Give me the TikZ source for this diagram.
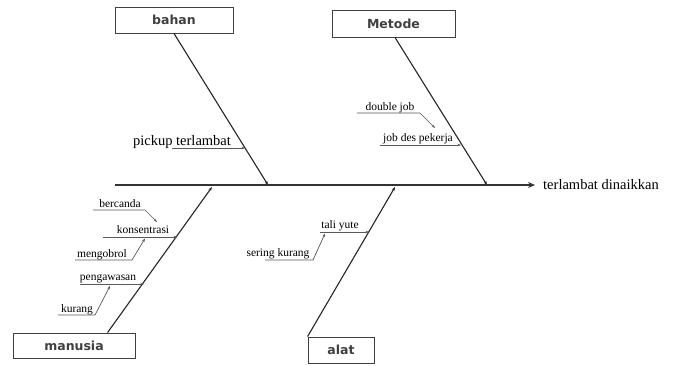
\documentclass[tikz,border=0pt]{standalone}
\usepackage{fontspec}
\setmainfont{Liberation Serif}
\newfontfamily\boxfont{DejaVu Sans}
\usetikzlibrary{arrows.meta}
\begin{document}
\begin{tikzpicture}[x=1pt,y=-1pt,
  catbox/.style={draw=black!75,line width=0.9pt,font=\boxfont\bfseries\fontsize{12.5}{14}\selectfont,inner sep=0pt,text=black!75},
  bone/.style={line width=1.1pt,black!85,-{Stealth[length=4pt,width=3pt]}},
  sub/.style={line width=0.7pt,black!65,-{Stealth[length=3.5pt,width=2.6pt]}},
  lbl/.style={font=\fontsize{11.5}{13}\selectfont,inner sep=0pt,anchor=base,text=black},
  biglbl/.style={font=\fontsize{14.5}{16}\selectfont,inner sep=0pt,anchor=base,text=black}]
\useasboundingbox (0,0) rectangle (675,365);
\fill[white] (0,0) rectangle (675,365);
% category boxes
\node[catbox,minimum width=118pt,minimum height=26pt] (bahan) at (174,20) {bahan};
\node[catbox,minimum width=123pt,minimum height=27pt] (metode) at (393.5,23.5) {Metode};
\node[catbox,minimum width=122pt,minimum height=25pt] (manusia) at (74,345.5) {manusia};
\node[catbox,minimum width=66pt,minimum height=26pt] (alat) at (341,350) {alat};
% spine
\coordinate (tail) at (115,185);
\node[biglbl,anchor=west] (effect) at (543,185) {terlambat dinaikkan};
\draw[line width=2.4pt,black!80,-{Stealth[length=7pt,width=6pt]}] (tail) -- ([xshift=-8pt]effect.west);
% bones
\coordinate (jb) at (268,185);
\coordinate (jm) at (487,185);
\coordinate (jn) at (212,187);
\coordinate (ja) at (395,187);
\draw[bone] (bahan.south) -- (jb);
\draw[bone] ([xshift=1.5pt]metode.south) -- (jm);
\draw[bone] ([xshift=95pt]manusia.north west) -- (jn);
\draw[bone] (alat.north west) -- (ja);
% bahan sub-cause
\node[biglbl] (pickup) at (182,145) {pickup terlambat};
\coordinate (pk1) at (172,148);
\coordinate (pk2) at (245,148);
\draw[sub] (pk1) -- (pk2);
% metode sub-causes
\node[lbl] (dj) at (390,110) {double job};
\node[lbl] (jd) at (418,141) {job des pekerja};
\coordinate (dj1) at (357,113);
\coordinate (dj2) at (420,113);
\coordinate (dj3) at (435,128);
\draw[sub] (dj1) -- (dj2) -- (dj3);
\coordinate (jd1) at (380,145);
\coordinate (jd2) at (461,145);
\draw[sub] (jd1) -- (jd2);
% manusia sub-causes
\node[lbl] (bc) at (120,207) {bercanda};
\coordinate (bc1) at (93,210);
\coordinate (bc2) at (145,210);
\coordinate (bc3) at (157,222);
\draw[sub] (bc1) -- (bc2) -- (bc3);
\node[lbl] (ks) at (143,233.5) {konsentrasi};
\coordinate (ks1) at (103,237);
\coordinate (ks2) at (177,237);
\draw[sub] (ks1) -- (ks2);
\node[lbl] (mg) at (102,257) {mengobrol};
\coordinate (mg1) at (75,260);
\coordinate (mg2) at (132,260);
\coordinate (mg3) at (145,238.5);
\draw[sub] (mg1) -- (mg2) -- (mg3);
\node[lbl] (pg) at (108,280.5) {pengawasan};
\coordinate (pg1) at (80,284);
\coordinate (pg2) at (144,284);
\draw[sub] (pg1) -- (pg2);
\node[lbl] (kr) at (77,312) {kurang};
\coordinate (kr1) at (58,315);
\coordinate (kr2) at (95,315);
\coordinate (kr3) at (110,286);
\draw[sub] (kr1) -- (kr2) -- (kr3);
% alat sub-causes
\node[lbl] (ty) at (340,228.5) {tali yute};
\coordinate (ty1) at (320,232);
\coordinate (ty2) at (369,232);
\draw[sub] (ty1) -- (ty2);
\node[lbl] (sk) at (278,256) {sering kurang};
\coordinate (sk1) at (265,260);
\coordinate (sk2) at (313,260);
\coordinate (sk3) at (325,233.5);
\draw[sub] (sk1) -- (sk2) -- (sk3);
\end{tikzpicture}
\end{document}
